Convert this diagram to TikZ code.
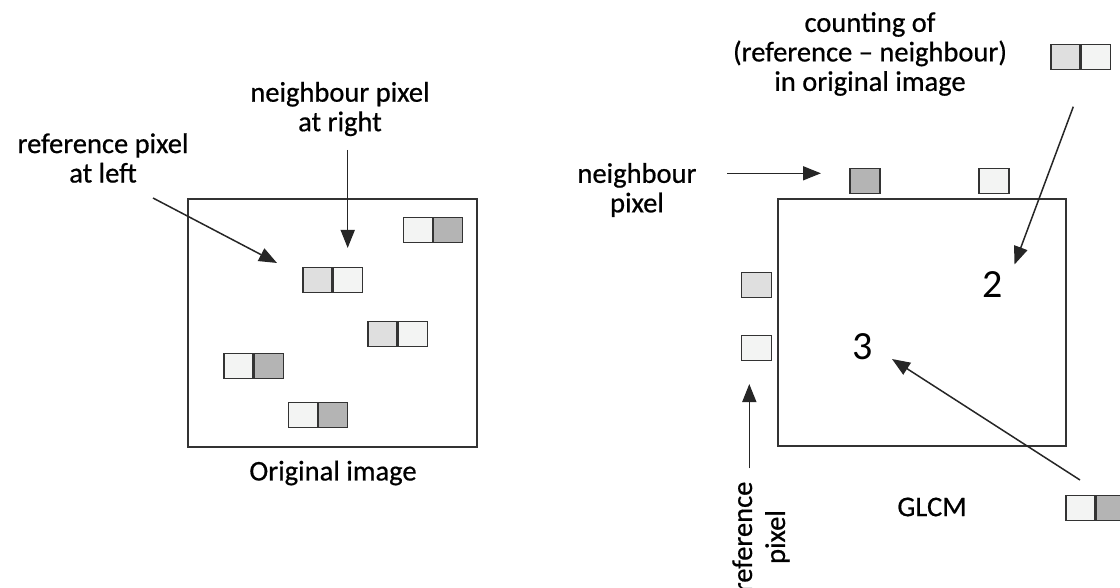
\documentclass[tikz,border=0pt]{standalone}
\usepackage{fontspec}
\setmainfont{Carlito}[FakeBold=0.6]
\newfontfamily\digitfont{Carlito}
\usetikzlibrary{arrows.meta}
\definecolor{pxdark}{HTML}{B4B4B4}
\definecolor{pxmid}{HTML}{DFDFDF}
\definecolor{pxlight}{HTML}{F3F4F3}
\definecolor{edge}{HTML}{333333}
\begin{document}
\begin{tikzpicture}[x=1pt,y=-1pt,
  cell/.style={draw=edge, line width=1.3pt, minimum width=29pt, minimum height=25pt, inner sep=0pt},
  dark/.style={cell, fill=pxdark},
  mid/.style={cell, fill=pxmid},
  light/.style={cell, fill=pxlight},
  frame/.style={draw=edge, line width=1.3pt},
  label/.style={align=center, inner sep=0pt, font=\fontsize{28.5}{29.5}\selectfont},
  count/.style={inner sep=0pt, font=\digitfont\fontsize{40}{40}\selectfont},
  pointer/.style={draw=black!85, line width=1.5pt, -{Triangle[length=18pt,width=14pt]}}]
\useasboundingbox (0,0) rectangle (1120,588);

% ---- original image ----
\draw[frame] (188,199) rectangle (477,447);
\node[light] (a1) at (418,230) {};
\node[dark, anchor=west] (a2) at (a1.east) {};
\node[mid] (b1) at (317.5,280) {};
\node[light, anchor=west] (b2) at (b1.east) {};
\node[mid] (c1) at (382.4,334) {};
\node[light, anchor=west] (c2) at (c1.east) {};
\node[light] (d1) at (238.6,366) {};
\node[dark, anchor=west] (d2) at (d1.east) {};
\node[light] (e1) at (303,415) {};
\node[dark, anchor=west] (e2) at (e1.east) {};

\node[label] (reflbl) at (103,158) {reference pixel\\at left};
\node[label] (nbrlbl) at (340,109) {neighbour pixel\\at right};
\node[label] (origlbl) at (333,473) {Original image};

\coordinate (refstart) at (153,198);
\coordinate (refend) at (277,263);
\coordinate (nbrstart) at (347.7,150);
\coordinate (nbrend) at (347.7,248);
\draw[pointer] (refstart) -- (refend);
\draw[pointer] (nbrstart) -- (nbrend);

% ---- GLCM ----
\draw[frame] (778,199) rectangle (1066,446);
\node[dark, minimum width=30pt] (ntop1) at (865,181) {};
\node[light, minimum width=30pt] (ntop2) at (994,181) {};
\node[mid, minimum width=30pt] (rl1) at (756.7,285) {};
\node[light, minimum width=30pt] (rl2) at (756.7,348) {};

\node[mid] (p1) at (1065.6,57) {};
\node[light, anchor=west] (p2) at (p1.east) {};
\node[light] (q1) at (1080.5,508) {};
\node[dark, anchor=west] (q2) at (q1.east) {};

\node[count] (two) at (993,285) {2};
\node[count] (three) at (863,347) {3};

\node[label] (cntlbl) at (870,54) {counting of\\(reference – neighbour)\\in original image};
\node[label] (nplbl) at (637,190) {neighbour\\pixel};
\node[label] (glcmlbl) at (932,507) {GLCM};
\node[label, rotate=90, font=\fontsize{28.5}{33}\selectfont] (rplbl) at (761,537) {reference\\pixel};

\coordinate (npstart) at (727,173.3);
\coordinate (npend) at (821,173.3);
\coordinate (cntstart) at (1073.3,106.7);
\coordinate (cntend) at (1014.5,264.5);
\coordinate (thrstart) at (1080,480);
\coordinate (thrend) at (892,359);
\coordinate (rpstart) at (749.3,468.3);
\coordinate (rpend) at (749.3,384);
\draw[pointer] (npstart) -- (npend);
\draw[pointer] (cntstart) -- (cntend);
\draw[pointer] (thrstart) -- (thrend);
\draw[pointer] (rpstart) -- (rpend);
\end{tikzpicture}
\end{document}
